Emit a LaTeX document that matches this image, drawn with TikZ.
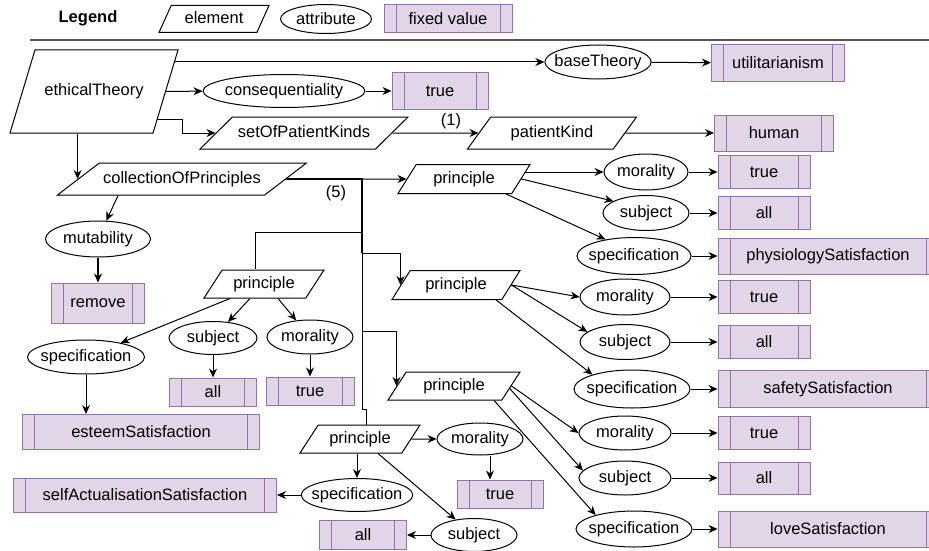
\documentclass[tikz,border=0pt]{standalone}
\usepackage{fontspec}
\setmainfont{Liberation Sans}
\usetikzlibrary{shapes.geometric,arrows.meta,positioning,calc,backgrounds}
\definecolor{ValueFill}{RGB}{225,213,231}
\definecolor{ValueBorder}{RGB}{150,115,166}
\definecolor{RuleGray}{RGB}{85,85,85}

\begin{document}
\begin{tikzpicture}[
    x=1pt, y=-1pt,
    font=\fontsize{16.5}{19}\selectfont,
    element/.style={
      trapezium,
      trapezium left angle=47,
      trapezium right angle=133,
      trapezium stretches body=true,
      draw=black, fill=white,
      line width=1pt,
      text height=12pt, text depth=3.5pt,
      inner xsep=2pt, inner ysep=2pt,
      minimum height=28pt
    },
    attribute/.style={
      ellipse,
      draw=black, fill=white,
      line width=1pt,
      inner xsep=-6pt, inner ysep=0pt,
      minimum height=34pt
    },
    fixedval/.style={
      rectangle,
      draw=ValueBorder, fill=ValueFill,
      line width=1pt,
      inner sep=2pt,
      minimum height=33pt,
      path picture={
        \draw[ValueBorder, line width=1pt]
          ([xshift=12pt]path picture bounding box.north west) --
          ([xshift=12pt]path picture bounding box.south west)
          ([xshift=-12pt]path picture bounding box.north east) --
          ([xshift=-12pt]path picture bounding box.south east);
      }
    },
    arrow/.style={
      -{Stealth[length=9pt, width=8pt]},
      line width=1pt,
      draw=black
    },
    link/.style={line width=1pt, draw=black}
  ]
    \useasboundingbox (0,0) rectangle (929,551);

    % legend
    \node[font=\fontsize{16.5}{19}\selectfont\bfseries] (legend) at (88,18) {Legend};
    \node[element, trapezium left angle=58, trapezium right angle=122,
          minimum width=110pt, minimum height=27pt] (lgElem) at (214,19) {element};
    \node[attribute, minimum width=91pt, minimum height=29pt] (lgAttr) at (326,19) {attribute};
    \node[fixedval, minimum width=128pt, minimum height=28pt] (lgVal) at (448,19) {fixed value};
    \draw[RuleGray, line width=1.2pt] (30,40) -- (929,40);

    % theory and its attributes
    \node[element, trapezium left angle=38, trapezium right angle=142,
          minimum width=168pt, minimum height=83pt] (ET) at (94,91.5) {ethicalTheory};
    \node[attribute, minimum width=106pt] (bT) at (598,62) {baseTheory};
    \node[fixedval, minimum width=133pt, minimum height=37pt] (util) at (778,63) {utilitarianism};
    \node[attribute, minimum width=162pt, minimum height=33pt] (cq) at (284,91) {consequentiality};
    \node[fixedval, minimum width=96pt, minimum height=37pt] (tr1) at (440,91) {true};
    \node[element, trapezium left angle=31, trapezium right angle=149,
          minimum width=208pt, minimum height=32pt] (sPK) at (304,133) {setOfPatientKinds};
    \node[element, trapezium left angle=40, trapezium right angle=140,
          minimum width=169pt, minimum height=32pt] (pK) at (552,133) {patientKind};
    \node[fixedval, minimum width=119pt, minimum height=36pt] (hum) at (774,133) {human};
    \node[element, trapezium left angle=25, trapezium right angle=155,
          minimum width=249pt, minimum height=32pt] (cOP) at (182,179) {collectionOfPrinciples};
    \coordinate (trunk) at (362,179);
    \node (n5) at (336,193) {(5)};
    \node[attribute, minimum width=105pt, minimum height=36pt] (mut) at (98,239) {mutability};
    \node[fixedval, minimum width=93pt, minimum height=40pt] (rem) at (98,303) {remove};

    % principle 1
    \node[element, minimum width=132pt, minimum height=29pt] (p1) at (464,179) {principle};
    \node[attribute, minimum width=84pt, minimum height=36pt] (m1) at (646,172) {morality};
    \node[fixedval, minimum width=92pt] (t2) at (764,172) {true};
    \node[attribute, minimum width=86pt, minimum height=35pt] (s1) at (646,213) {subject};
    \node[fixedval, minimum width=92pt] (a1) at (764,213) {all};
    \node[attribute, minimum width=114pt, minimum height=37pt] (sp1) at (634,256) {specification};
    \node[fixedval, minimum width=220pt, minimum height=36pt] (phys) at (828,256) {physiologySatisfaction};

    % principle 2
    \node[element, minimum width=120pt] (p2) at (264,284) {principle};
    \node[attribute, minimum width=117pt] (sp2) at (86,357) {specification};
    \node[attribute, minimum width=88pt, minimum height=33pt] (s2) at (213,338) {subject};
    \node[attribute, minimum width=86pt] (m2) at (310,337) {morality};
    \node[fixedval, minimum width=87pt, minimum height=28pt] (a2) at (213,392) {all};
    \node[fixedval, minimum width=88pt, minimum height=28pt] (t3) at (310,391) {true};
    \node[fixedval, minimum width=237pt, minimum height=35pt] (est) at (141,432) {esteemSatisfaction};

    % principle 3
    \node[element, minimum width=128pt, minimum height=29pt] (p3) at (456,285) {principle};
    \node[attribute, minimum width=90pt, minimum height=36pt] (m3) at (625,297) {morality};
    \node[fixedval, minimum width=92pt] (t4) at (764,297) {true};
    \node[attribute, minimum width=90pt, minimum height=35pt] (s3) at (625,342) {subject};
    \node[fixedval, minimum width=92pt] (a3) at (764,342) {all};
    \node[attribute, minimum width=116pt, minimum height=38pt] (sp3) at (632,389) {specification};
    \node[fixedval, minimum width=220pt, minimum height=37pt] (safe) at (828,389) {safetySatisfaction};

    % principle 4
    \node[element, minimum width=132pt] (p4) at (454,386) {principle};
    \node[attribute, minimum width=92pt] (m4) at (625,433) {morality};
    \node[fixedval, minimum width=92pt] (t5) at (764,433) {true};
    \node[attribute, minimum width=92pt] (s4) at (625,478) {subject};
    \node[fixedval, minimum width=92pt, minimum height=32pt] (a4) at (764,478) {all};
    \node[attribute, minimum width=116pt, minimum height=36pt] (sp4) at (634,529) {specification};
    \node[fixedval, minimum width=220pt, minimum height=36pt] (love) at (828,529) {loveSatisfaction};

    % principle 5
    \node[element, minimum width=120pt] (p5) at (360,439) {principle};
    \node[attribute, minimum width=86pt, minimum height=32pt] (m5) at (480,439) {morality};
    \node[fixedval, minimum width=86pt, minimum height=28pt] (t6) at (500,494) {true};
    \node[attribute, minimum width=106pt, minimum height=33pt] (sp5) at (357,495) {specification};
    \node[fixedval, minimum width=263pt, minimum height=34pt] (self) at (145,495) {selfActualisationSatisfaction};
    \node[attribute, minimum width=86pt, minimum height=33pt] (s5) at (474,535) {subject};
    \node[fixedval, minimum width=87pt, minimum height=29pt] (a5) at (363,535) {all};

    \begin{scope}[on background layer]
      \draw[arrow] (ET.center |- bT) -- (bT);
      \draw[arrow] (bT) -- (util);
      \draw[arrow] (ET) -- (cq);
      \draw[arrow] (cq) -- (tr1);
      \draw[arrow] ([yshift=-28pt]ET.center) -| ([xshift=-33pt]sPK.west) -- (sPK.west);
      \draw[arrow] (sPK) -- node[above, pos=0.68] (n1) {(1)} (pK);
      \draw[arrow] (pK) -- (hum);
      \draw[arrow] (cOP.west |- ET.south) -- (cOP.west);
      \draw[arrow] ([xshift=-64pt]cOP.south) -- (mut);
      \draw[arrow, line width=1.6pt] (mut) -- (rem);

      % collection to principles
      \draw[arrow] (cOP) -- (p1);
      \draw[link] (cOP.center) -| ([yshift=-53pt]trunk) -| ([xshift=-9pt]p2.north);
      \draw[arrow] (cOP.center) -| ([yshift=-74pt]trunk) -| (p3.west);
      \draw[arrow] (cOP.center) -| ([yshift=-152pt]trunk) -| (p4.west);
      \draw[link] (cOP.center) -| ([yshift=-230pt]trunk) -| ([xshift=6pt]p5.north);
      \draw[link, line width=2pt] (cOP.center) -| ([yshift=-74pt]trunk);

      \draw[arrow] (p1.east |- m1) -- (m1);
      \draw[arrow] (p1.east) -- (s1.160);
      \draw[arrow] ([xshift=-6pt]p1.bottom right corner) -- (sp1.150);
      \draw[arrow] (m1) -- (t2);
      \draw[arrow] (s1) -- (a1);
      \draw[arrow] (sp1) -- (phys);

      \draw[arrow] ([xshift=-34pt]p2.south) -- (sp2);
      \draw[arrow] ([xshift=-14pt]p2.south) -- (s2);
      \draw[arrow] ([xshift=14pt]p2.south) -- (m2);
      \draw[arrow] (sp2) -- (sp2 |- est.north);
      \draw[arrow] (s2) -- (a2);
      \draw[arrow] (m2) -- (t3);

      \draw[arrow] (p3.east) -- (m3.west);
      \draw[arrow] (p3.east) -- (s3.165);
      \draw[arrow] ([xshift=-6pt]p3.bottom right corner) -- (sp3.160);
      \draw[arrow] (m3) -- (t4);
      \draw[arrow] (s3) -- (a3);
      \draw[arrow] (sp3) -- (safe);

      \draw[arrow] (p4.east) -- (m4.west);
      \draw[arrow] ([xshift=-4pt]p4.east) -- (s4.170);
      \draw[arrow] ([xshift=-8pt]p4.bottom right corner) -- (sp4.160);
      \draw[arrow] (m4) -- (t5);
      \draw[arrow] (s4) -- (a4);
      \draw[arrow] (sp4) -- (love);

      \draw[arrow] (p5) -- (m5);
      \draw[arrow] (p5.south -| sp5) -- (sp5);
      \draw[arrow] ([xshift=18pt]p5.south) -- (s5.140);
      \draw[arrow] ([xshift=10pt]m5.south) -- ([xshift=-10pt]t6.north);
      \draw[arrow] (sp5) -- (self);
      \draw[arrow] (s5) -- (a5);
    \end{scope}
  \end{tikzpicture}
\end{document}
